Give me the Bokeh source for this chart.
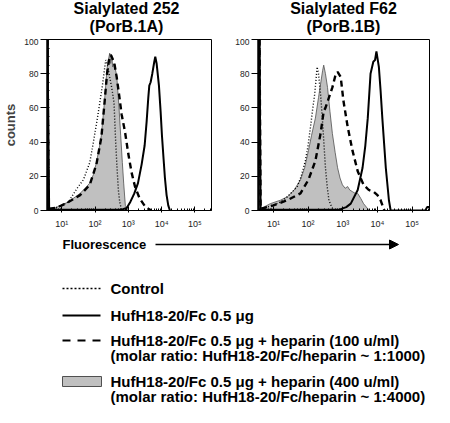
import numpy as np
from bokeh.plotting import figure
from bokeh.models import Range1d, FixedTicker, Arrow, NormalHead
from bokeh.layouts import row, column
from bokeh.embed import file_html
from bokeh.resources import INLINE
from bokeh.core.properties import value

FONT = "Liberation Sans"

# ---------------- data ----------------
panel_titles = [["Sialylated 252", "(PorB.1A)"], ["Sialylated F62", "(PorB.1B)"]]
x_tick_decades = [1, 2, 3, 4, 5]
x_tick_labels = ["10¹", "10²", "10³", "10⁴", "10⁵"]
y_ticks = [0, 20, 40, 60, 80, 100]
x_min_decade, x_max_decade = 0.57, 5.50

# x values in log10 decades of fluorescence, y = counts
l_ctrl_x = [0.57, 0.60, 0.80, 1.00, 1.20, 1.46, 1.65, 1.84, 1.95, 2.07, 2.15, 2.22, 2.28, 2.32, 2.37, 2.42, 2.50, 2.57, 2.62, 2.66, 2.70, 2.74, 2.80]
l_ctrl_y = [100, 1, 1.5, 3, 5, 13, 18, 28, 40, 54, 64, 73, 82, 88, 85, 80, 72, 63, 40, 25, 12, 5, 0]
l_gray_x = [0.57, 0.60, 0.80, 0.97, 1.20, 1.55, 1.70, 1.84, 1.95, 2.04, 2.12, 2.19, 2.28, 2.36, 2.40, 2.44, 2.47, 2.50, 2.53, 2.57, 2.65, 2.72, 2.77, 2.82, 2.86, 2.91, 3.00]
l_gray_y = [100, 1, 1.5, 3, 5, 10, 13, 16, 21, 28, 36, 44, 63, 83, 88, 92, 86, 91, 84, 86, 79, 60, 44, 28, 16, 3, 0]
l_dash_x = [0.57, 0.60, 0.80, 1.00, 1.20, 1.55, 1.84, 2.04, 2.19, 2.28, 2.36, 2.42, 2.47, 2.52, 2.58, 2.65, 2.72, 2.80, 2.90, 3.00, 3.10, 3.20, 3.34, 3.50, 3.60, 3.70]
l_dash_y = [100, 1, 1.5, 3, 5, 9, 15, 27, 43, 62, 80, 88, 91, 89, 86, 78, 68, 56, 46, 33, 22, 14, 7, 2.5, 1, 0]
l_solid_x = [0.57, 0.62, 2.80, 2.95, 3.06, 3.18, 3.29, 3.40, 3.49, 3.55, 3.60, 3.63, 3.67, 3.72, 3.78, 3.81, 3.85, 3.92, 3.97, 4.01, 4.06, 4.10, 4.15, 4.20, 4.25]
l_solid_y = [100, 0.5, 0.5, 1.5, 5, 10, 16, 27, 38, 52, 66, 73, 75, 80, 87, 90, 86, 73, 58, 44, 30, 19, 9, 3, 0]

r_ctrl_x = [0.60, 0.63, 0.80, 1.00, 1.20, 1.40, 1.55, 1.69, 1.80, 1.92, 2.00, 2.07, 2.13, 2.19, 2.23, 2.26, 2.30, 2.36, 2.41, 2.46, 2.50, 2.55, 2.60, 2.68, 2.75]
r_ctrl_y = [100, 1, 2, 3, 5, 8, 11, 14, 20, 29, 38, 49, 59, 68, 77, 84, 80, 68, 54, 38, 25, 14, 6, 2, 0]
r_gray_x = [0.60, 0.63, 0.91, 1.20, 1.40, 1.60, 1.78, 1.90, 2.01, 2.10, 2.21, 2.30, 2.36, 2.42, 2.45, 2.50, 2.56, 2.63, 2.70, 2.78, 2.85, 2.92, 2.99, 3.07, 3.14, 3.20, 3.28, 3.36, 3.43, 3.52, 3.60, 3.72, 3.80]
r_gray_y = [100, 1, 4, 6, 8, 12, 18, 25, 35, 44, 54, 66, 74, 82, 85, 80, 72, 58, 45, 34, 25, 19, 15, 13, 14, 12, 11, 10, 10, 7, 4, 1, 0]
r_dash_x = [0.60, 0.63, 1.00, 1.40, 1.78, 2.01, 2.21, 2.36, 2.45, 2.50, 2.60, 2.70, 2.80, 2.85, 2.94, 3.02, 3.14, 3.28, 3.43, 3.60, 3.75, 3.89, 4.00, 4.09, 4.18, 4.20]
r_dash_y = [100, 1, 3, 6, 10, 18, 29, 45, 58, 60, 66, 72, 80, 81, 78, 64, 49, 35, 23, 15, 12, 11, 9, 6, 1, 0]
r_solid_x = [0.60, 0.63, 2.90, 3.10, 3.23, 3.43, 3.57, 3.65, 3.72, 3.80, 3.88, 3.93, 3.97, 4.04, 4.09, 4.14, 4.24, 4.33, 4.38, 5.38, 5.43, 5.50]
r_solid_y = [100, 0.5, 0.5, 2, 4, 12, 25, 38, 54, 80, 87, 88, 93, 84, 70, 54, 25, 6, 0, 0, 2, 2]

legend_labels = [
    ["Control"],
    ["HufH18-20/Fc 0.5 μg"],
    ["HufH18-20/Fc 0.5 μg + heparin (100 u/ml)", "(molar ratio: HufH18-20/Fc/heparin ~ 1:1000)"],
    ["HufH18-20/Fc 0.5 μg + heparin (400 u/ml)", "(molar ratio: HufH18-20/Fc/heparin ~ 1:4000)"],
]

GRAY = "#c0c0c0"
GRAY_EDGE = "#505050"
DASH = "6 4"
DOT = "1 2"


def pw(d):
    return [10 ** v for v in d]


def panel(series, width, bl, br, ylabel):
    p = figure(width=width, height=194, x_axis_type="log",
               x_range=Range1d(10 ** x_min_decade, 10 ** x_max_decade),
               y_range=Range1d(0, 100), output_backend="svg", toolbar_location=None,
               min_border_left=bl, min_border_right=br, min_border_top=1, min_border_bottom=22)
    p.grid.visible = False
    p.outline_line_color = "black"
    p.outline_line_width = 1
    p.background_fill_color = "white"
    p.border_fill_color = "white"

    ctrl_x, ctrl_y, gray_x, gray_y, dash_x, dash_y, sol_x, sol_y = series
    p.varea(x=pw(gray_x), y1=[0] * len(gray_x), y2=gray_y, fill_color=GRAY)
    p.line(pw(gray_x), gray_y, line_color=GRAY_EDGE, line_width=0.8)
    p.line(pw(ctrl_x), ctrl_y, line_color="black", line_width=1.4, line_dash=DOT)
    p.line(pw(dash_x), dash_y, line_color="black", line_width=2.4, line_dash=DASH)
    p.line(pw(sol_x), sol_y, line_color="black", line_width=2)

    minor = [m * 10 ** d for d in range(0, 6) for m in range(2, 10)
             if 10 ** x_min_decade < m * 10 ** d < 10 ** x_max_decade]
    p.xaxis.ticker = FixedTicker(ticks=pw(x_tick_decades), minor_ticks=minor)
    p.xaxis.major_label_overrides = {10 ** d: lab for d, lab in zip(x_tick_decades, x_tick_labels)}
    p.xaxis.major_tick_in = 4
    p.xaxis.major_tick_out = 2
    p.xaxis.minor_tick_in = 2
    p.xaxis.minor_tick_out = 0
    p.xaxis.major_label_standoff = 6
    p.xaxis.major_label_text_font = FONT
    p.xaxis.major_label_text_font_size = "9px"
    p.xaxis.major_label_text_color = "#222222"
    p.xaxis.axis_line_color = "black"

    p.yaxis.ticker = FixedTicker(ticks=y_ticks, minor_ticks=list(range(0, 101, 5)))
    p.yaxis.major_tick_in = 0
    p.yaxis.major_tick_out = 7
    p.yaxis.minor_tick_in = 2
    p.yaxis.minor_tick_out = 0
    p.yaxis.major_label_standoff = 2
    p.yaxis.major_label_text_font = FONT
    p.yaxis.major_label_text_font_size = "8.5px"
    p.yaxis.major_label_text_color = "#222222"
    p.yaxis.axis_line_color = "black"
    p.yaxis.axis_line_width = 2.5
    if ylabel:
        p.yaxis.axis_label = ylabel
        p.yaxis.axis_label_text_font = FONT
        p.yaxis.axis_label_text_font_size = "13px"
        p.yaxis.axis_label_text_font_style = "bold"
        p.yaxis.axis_label_standoff = 3
    return p


left = panel([l_ctrl_x, l_ctrl_y, l_gray_x, l_gray_y, l_dash_x, l_dash_y, l_solid_x, l_solid_y],
             222, 41, 11, "counts")
right = panel([r_ctrl_x, r_ctrl_y, r_gray_x, r_gray_y, r_dash_x, r_dash_y, r_solid_x, r_solid_y],
              212, 36, 5, None)

# ---------------- header (panel titles) ----------------
HEAD_H = 38
head = figure(width=434, height=HEAD_H, x_range=Range1d(0, 434), y_range=Range1d(HEAD_H, 0),
              output_backend="svg", toolbar_location=None, min_border=0,
              x_axis_location=None, y_axis_location=None)
head.grid.visible = False
head.outline_line_color = None
title_cx = [126, 343]
for cx, lines in zip(title_cx, panel_titles):
    head.text(x=[cx, cx], y=[8, 26], text=lines, text_font=value(FONT), text_font_style="bold",
              text_font_size="16px", text_align="center", text_baseline="middle", text_color="black")

# ---------------- bottom: axis caption + legend ----------------
BOT_Y0 = 232
BOT_H = 407 - BOT_Y0
bot = figure(width=434, height=BOT_H, x_range=Range1d(0, 434), y_range=Range1d(BOT_H, 0),
             output_backend="svg", toolbar_location=None, min_border=0,
             x_axis_location=None, y_axis_location=None)
bot.grid.visible = False
bot.outline_line_color = None
bot.text(x=[62], y=[244 - BOT_Y0], text=["Fluorescence"], text_font=value(FONT), text_font_style="bold",
         text_font_size="13px", text_baseline="middle", text_color="black")
bot.add_layout(Arrow(x_start=155, y_start=244 - BOT_Y0, x_end=398, y_end=244 - BOT_Y0, line_width=1.5,
                     line_color="black", end=NormalHead(size=9, fill_color="black", line_color="black")))

sx0, sx1, tx = 62, 100, 110
row_y = [[288 - BOT_Y0], [315 - BOT_Y0], [340 - BOT_Y0, 355 - BOT_Y0], [381 - BOT_Y0, 396 - BOT_Y0]]
bot.line([sx0, sx1], [row_y[0][0]] * 2, line_color="black", line_width=1.5, line_dash="2 2")
bot.line([sx0, sx1], [row_y[1][0]] * 2, line_color="black", line_width=2)
bot.line([sx0, sx1], [row_y[2][0]] * 2, line_color="black", line_width=2, line_dash="8 7")
bot.quad(left=[sx0], right=[sx1 + 1], top=[row_y[3][0] - 5], bottom=[row_y[3][0] + 5],
         fill_color=GRAY, line_color=GRAY_EDGE, line_width=1)
for ys, labs in zip(row_y, legend_labels):
    bot.text(x=[tx] * len(labs), y=ys, text=labs, text_font=value(FONT), text_font_style="bold",
             text_font_size="15px", text_baseline="middle", text_color="black")

layout = column(head, row(left, right), bot)
open("out.html", "w").write(file_html(layout, INLINE))
